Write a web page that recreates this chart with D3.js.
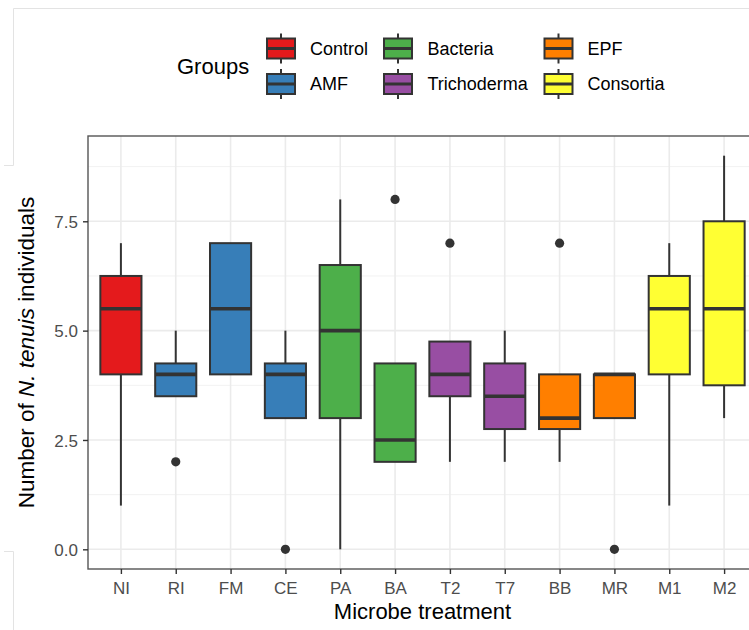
<!DOCTYPE html>
<html>
<head>
<meta charset="utf-8">
<script src="https://cdn.jsdelivr.net/npm/d3@7"></script>
<style>
  html, body { margin: 0; padding: 0; background: #fff; }
  svg { display: block; font-family: "Liberation Sans", Arial, Helvetica, sans-serif; }
</style>
</head>
<body>
<svg id="chart" width="749" height="630"></svg>
<script>
// ---- data ----
const categories = ["NI","RI","FM","CE","PA","BA","T2","T7","BB","MR","M1","M2"];
const groupOf    = ["Control","AMF","AMF","AMF","Bacteria","Bacteria","Trichoderma","Trichoderma","EPF","EPF","Consortia","Consortia"];
const whiskerLow = [1, 3.5, 4, 3, 0, 2, 2, 2, 2, 3, 1, 3];
const q1         = [4, 3.5, 4, 3, 3, 2, 3.5, 2.75, 2.75, 3, 4, 3.75];
const medians    = [5.5, 4, 5.5, 4, 5, 2.5, 4, 3.5, 3, 4, 5.5, 5.5];
const q3         = [6.25, 4.25, 7, 4.25, 6.5, 4.25, 4.75, 4.25, 4, 4, 6.25, 7.5];
const whiskerHigh= [7, 5, 7, 5, 8, 4.25, 4.75, 5, 4, 4, 7, 9];
const outliers   = [[], [2], [], [0], [], [8], [7], [], [7], [0], [], []];
const groups     = ["Control","AMF","Bacteria","Trichoderma","EPF","Consortia"];
const groupColors= ["#E41A1C","#377EB8","#4DAF4A","#984EA3","#FF7F00","#FFFF33"];
const yTicks     = [0, 2.5, 5, 7.5];
const yMinor     = [1.25, 3.75, 6.25, 8.75];
const yDomain    = [-0.45, 9.45];

// ---- layout ----
const svg = d3.select("#chart");
const P = { left: 88, right: 757, top: 136, bottom: 569 };
const dark = "#333333";

const x = d3.scalePoint().domain(categories).range([P.left, P.right]).padding(0.6);
const y = d3.scaleLinear().domain(yDomain).range([P.bottom, P.top]);
const color = d3.scaleOrdinal().domain(groups).range(groupColors);
const boxW = x.step() * 0.75;

// screenshot frame artifacts
const art = svg.append("g").attr("stroke", "#e3e3e3").attr("stroke-width", 1).attr("fill", "none");
art.append("path").attr("d", "M13.5,165.5 V8.5 H749");
art.append("path").attr("d", "M4,165.5 H13.5");
art.append("path").attr("d", "M4,551.5 H13.5 V630");

// panel background
const panel = svg.append("g");
panel.append("rect").attr("x", P.left).attr("y", P.top)
  .attr("width", P.right - P.left).attr("height", P.bottom - P.top).attr("fill", "#fff");

// grid
panel.selectAll(".ymin").data(yMinor).join("line")
  .attr("x1", P.left).attr("x2", P.right)
  .attr("y1", d => y(d)).attr("y2", d => y(d))
  .attr("stroke", "#f2f2f2").attr("stroke-width", 1);
panel.selectAll(".ymaj").data(yTicks).join("line")
  .attr("x1", P.left).attr("x2", P.right)
  .attr("y1", d => y(d)).attr("y2", d => y(d))
  .attr("stroke", "#ebebeb").attr("stroke-width", 1.6);
panel.selectAll(".xmaj").data(categories).join("line")
  .attr("x1", d => x(d)).attr("x2", d => x(d))
  .attr("y1", P.top).attr("y2", P.bottom)
  .attr("stroke", "#ebebeb").attr("stroke-width", 1.6);

// boxes
const bx = svg.append("g");
categories.forEach((c, i) => {
  const cx = x(c);
  const g = bx.append("g");
  g.append("line").attr("x1", cx).attr("x2", cx)
    .attr("y1", y(q3[i])).attr("y2", y(whiskerHigh[i]))
    .attr("stroke", dark).attr("stroke-width", 2);
  g.append("line").attr("x1", cx).attr("x2", cx)
    .attr("y1", y(q1[i])).attr("y2", y(whiskerLow[i]))
    .attr("stroke", dark).attr("stroke-width", 2);
  g.append("rect").attr("x", cx - boxW / 2).attr("y", y(q3[i]))
    .attr("width", boxW).attr("height", y(q1[i]) - y(q3[i]))
    .attr("fill", color(groupOf[i])).attr("stroke", dark).attr("stroke-width", 2);
  g.append("line").attr("x1", cx - boxW / 2).attr("x2", cx + boxW / 2)
    .attr("y1", y(medians[i])).attr("y2", y(medians[i]))
    .attr("stroke", dark).attr("stroke-width", 3.6);
  g.selectAll("circle").data(outliers[i]).join("circle")
    .attr("cx", cx).attr("cy", d => y(d)).attr("r", 4.6).attr("fill", dark);
});

// panel border
svg.append("rect").attr("x", P.left).attr("y", P.top)
  .attr("width", P.right - P.left).attr("height", P.bottom - P.top)
  .attr("fill", "none").attr("stroke", "#555").attr("stroke-width", 1.4);

// axes
const yAxis = d3.axisLeft(y).tickValues(yTicks).tickFormat(d3.format(".1f")).tickSize(5).tickPadding(5);
const gy = svg.append("g").attr("transform", `translate(${P.left},0)`).call(yAxis);
const xAxis = d3.axisBottom(x).tickSize(5).tickPadding(4);
const gx = svg.append("g").attr("transform", `translate(0,${P.bottom})`).call(xAxis);
[gx, gy].forEach(g => {
  g.select(".domain").remove();
  g.selectAll(".tick line").attr("stroke", dark).attr("stroke-width", 1.4);
  g.selectAll(".tick text").attr("fill", "#4d4d4d").style("font-size", "17px")
    .style("font-family", '"Liberation Sans", Arial, Helvetica, sans-serif');
});
gx.selectAll(".tick text").attr("dy", "0.95em");
gy.selectAll(".tick text").attr("dy", "0.36em");

// axis titles
svg.append("text").attr("x", (P.left + P.right) / 2).attr("y", 619)
  .attr("text-anchor", "middle").style("font-size", "22px").attr("fill", "#000")
  .text("Microbe treatment");
const yt = svg.append("text")
  .attr("transform", `translate(34,${(P.top + P.bottom) / 2}) rotate(-90)`)
  .attr("text-anchor", "middle").style("font-size", "22.5px").attr("fill", "#000");
yt.append("tspan").text("Number of ");
yt.append("tspan").style("font-style", "italic").text("N. tenuis");
yt.append("tspan").text(" individuals");

// legend
const leg = svg.append("g");
leg.append("text").attr("x", 177).attr("y", 74).style("font-size", "22px").attr("fill", "#000").text("Groups");
const colKeyX = [281, 398, 558.5];
const colLabelX = [310, 427.5, 587.5];
const rowY = [48.5, 84];
groups.forEach((gname, i) => {
  const col = Math.floor(i / 2), row = i % 2;
  const kx = colKeyX[col], ky = rowY[row];
  const k = leg.append("g");
  k.append("line").attr("x1", kx).attr("x2", kx).attr("y1", ky - 15).attr("y2", ky + 15)
    .attr("stroke", dark).attr("stroke-width", 2);
  k.append("rect").attr("x", kx - 14).attr("y", ky - 10).attr("width", 28).attr("height", 20)
    .attr("fill", color(gname)).attr("stroke", dark).attr("stroke-width", 2);
  k.append("line").attr("x1", kx - 14).attr("x2", kx + 14).attr("y1", ky).attr("y2", ky)
    .attr("stroke", dark).attr("stroke-width", 3);
  leg.append("text").attr("x", colLabelX[col]).attr("y", ky).attr("dy", "0.36em")
    .style("font-size", "18px").attr("fill", "#000").text(gname);
});
</script>
</body>
</html>
